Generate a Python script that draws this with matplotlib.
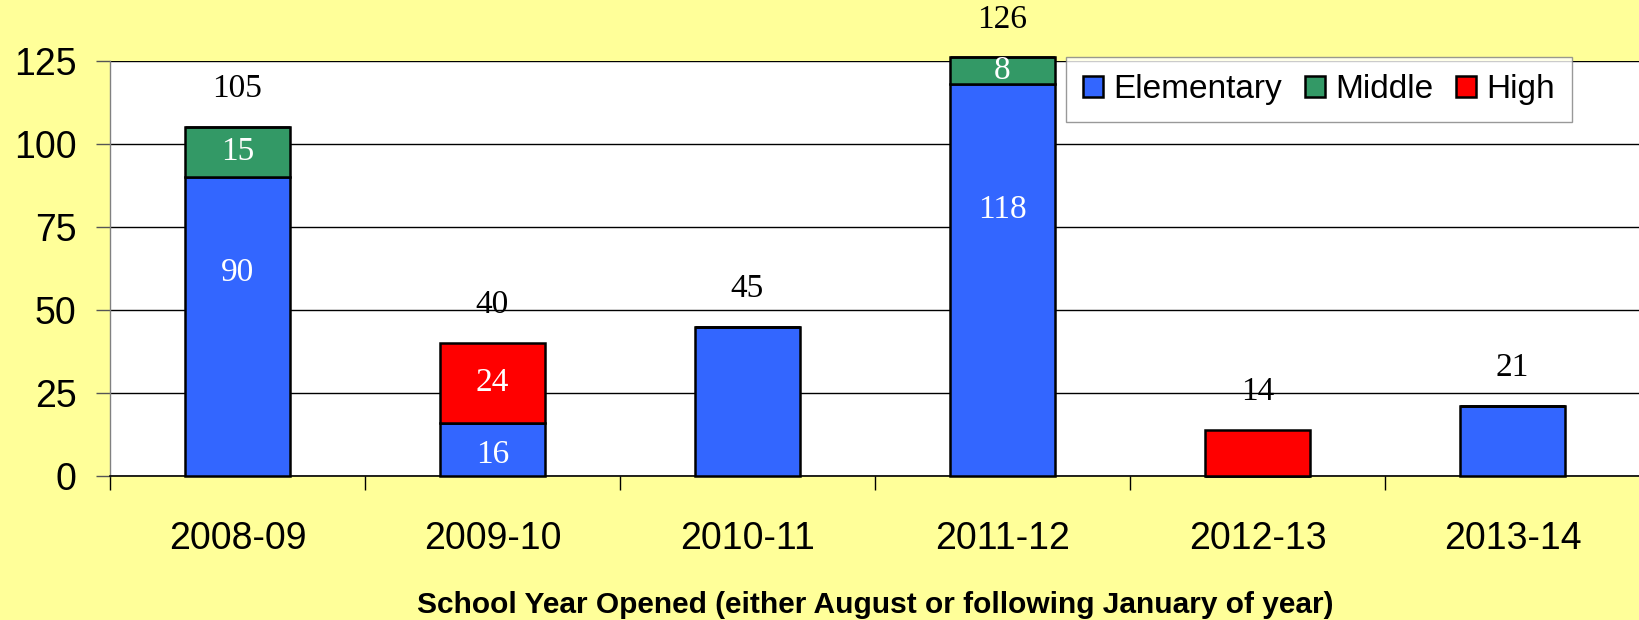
import matplotlib
matplotlib.use("Agg")
import matplotlib.pyplot as plt
import numpy as np

years = ["2008-09", "2009-10", "2010-11", "2011-12", "2012-13", "2013-14"]
elementary = [90, 16, 45, 118, 0, 21]
middle = [15, 0, 0, 8, 0, 0]
high = [0, 24, 0, 0, 14, 0]

series = [("Elementary", elementary, "#3366FF"),
          ("Middle", middle, "#339966"),
          ("High", high, "#FF0000")]

BG = "#FFFF99"
SANS = "Liberation Sans"
SERIF = "Liberation Serif"

fig = plt.figure(figsize=(16.4, 6.2), dpi=100, facecolor=BG)
ax = fig.add_axes([0.067, 0.232, 0.933, 0.670])
ax.set_facecolor("white")

x = np.arange(len(years))
bottom = np.zeros(len(years))
for name, vals, color in series:
    vals = np.array(vals, dtype=float)
    ax.bar(x, vals, 0.41, bottom=bottom, color=color, edgecolor="black",
           linewidth=1.8, label=name, clip_on=False, zorder=3)
    for i, v in enumerate(vals):
        if v <= 0:
            continue
        # only stacked bars get inside labels
        n_parts = sum(1 for _, s, _ in series if s[i] > 0)
        if n_parts > 1:
            frac = 0.68 if v > 50 else (0.4 if bottom[i] == 0 else 0.5)
            ax.text(x[i], bottom[i] + v * frac, f"{int(v)}", ha="center", va="center",
                    color="white", fontsize=24, family=SERIF, zorder=4, clip_on=False)
    bottom += vals

totals = bottom
for i, t in enumerate(totals):
    ax.annotate(f"{int(t)}", (x[i], t), xytext=(0, 16.5), textcoords="offset points",
                ha="center", va="bottom", fontsize=24, family=SERIF,
                annotation_clip=False)

ax.set_xlim(-0.5, len(years) - 0.5)
ax.set_ylim(0, 125)
ax.set_yticks([0, 25, 50, 75, 100, 125])
ax.yaxis.grid(True, color="black", linewidth=1.0, zorder=0)
ax.set_axisbelow(True)

ax.set_xticks(x)
ax.set_xticklabels(years, fontsize=27, family=SANS)
ax.set_xticks(np.arange(-0.5, len(years)), minor=True)
ax.tick_params(axis="x", which="major", length=0, pad=32)
ax.tick_params(axis="x", which="minor", length=10, width=1.0, color="black")
ax.tick_params(axis="y", length=10, width=1.0, color="#555555", pad=14, labelsize=27)
for lab in ax.get_yticklabels():
    lab.set_family(SANS)

for side in ["top", "right"]:
    ax.spines[side].set_visible(False)
ax.spines["left"].set_color("#808080")
ax.spines["left"].set_linewidth(1.0)
ax.spines["bottom"].set_color("black")
ax.spines["bottom"].set_linewidth(1.2)

ax.set_xlabel("School Year Opened (either August or following January of year)",
              fontsize=21.5, fontweight="bold", family=SANS, labelpad=25)

leg = ax.legend(loc="upper left", bbox_to_anchor=(0.625, 1.008), ncol=3,
                prop={"family": SANS, "size": 24}, frameon=True, fancybox=False,
                handlelength=0.6, handleheight=0.6, handletextpad=0.3,
                columnspacing=0.7, borderpad=0.5, borderaxespad=0)
leg.get_frame().set_edgecolor("#808080")
leg.get_frame().set_linewidth(1.0)
leg.set_zorder(5)

fig.savefig("out.png", dpi=100, facecolor=BG)
